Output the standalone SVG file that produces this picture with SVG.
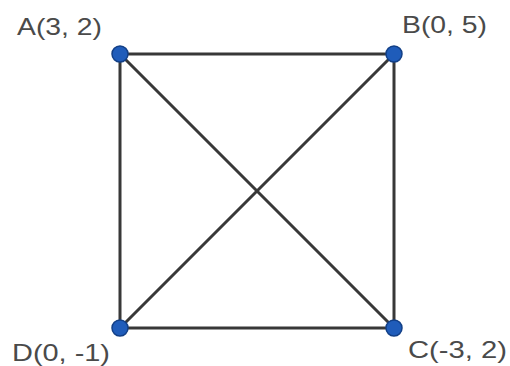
<svg xmlns="http://www.w3.org/2000/svg" width="510" height="366" viewBox="0 0 510 366">
<style>
.edge{stroke:#383838;stroke-width:3;fill:none;stroke-linecap:round}
.dot{fill:#1f5cba;stroke:#123f86;stroke-width:1.5}
.lbl{font-family:"Liberation Sans",Arial,sans-serif;font-size:24px;fill:#4a4a4a}
</style>
<rect width="510" height="366" fill="#ffffff"/>
<g id="connectors">
<line class="edge" x1="120" y1="54" x2="394" y2="54"/>
<line class="edge" x1="394" y1="54" x2="394" y2="328"/>
<line class="edge" x1="394" y1="328" x2="120" y2="328"/>
<line class="edge" x1="120" y1="328" x2="120" y2="54"/>
<line class="edge" x1="120" y1="54" x2="394" y2="328"/>
<line class="edge" x1="394" y1="54" x2="120" y2="328"/>
</g>
<g id="A"><circle class="dot" cx="120" cy="54" r="8"/><text class="lbl" x="17" y="35" textLength="85" lengthAdjust="spacingAndGlyphs">A(3, 2)</text></g>
<g id="B"><circle class="dot" cx="394" cy="54" r="8"/><text class="lbl" x="402" y="33" textLength="85" lengthAdjust="spacingAndGlyphs">B(0, 5)</text></g>
<g id="C"><circle class="dot" cx="394" cy="328" r="8"/><text class="lbl" x="408" y="358" textLength="99" lengthAdjust="spacingAndGlyphs">C(-3, 2)</text></g>
<g id="D"><circle class="dot" cx="120" cy="328" r="8"/><text class="lbl" x="12" y="361" textLength="98" lengthAdjust="spacingAndGlyphs">D(0, -1)</text></g>
</svg>
